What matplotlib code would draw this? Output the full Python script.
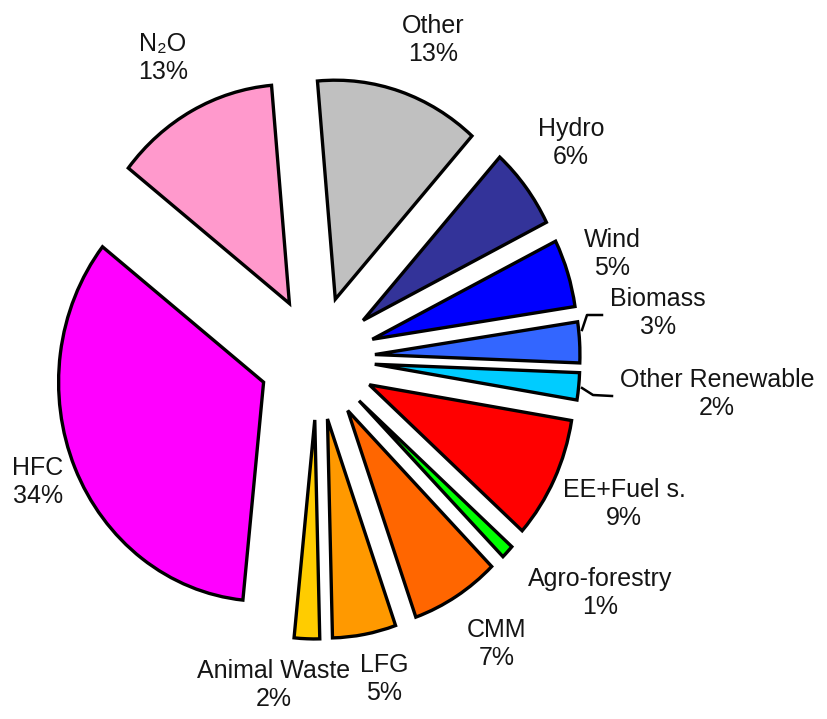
import matplotlib
matplotlib.use("Agg")
import matplotlib.pyplot as plt

plt.rcParams['font.family'] = ['Liberation Sans', 'DejaVu Sans']

# shares in percent, clockwise from the top
names = ["Other", "Hydro", "Wind", "Biomass", "Other Renewable", "EE+Fuel s.",
         "Agro-forestry", "CMM", "LFG", "Animal Waste", "HFC", "N\u2082O"]
shares = [13, 6, 5, 3, 2, 9, 1, 7, 5, 2, 34, 13]
colors = ["#C0C0C0", "#333399", "#0000FF", "#3366FF", "#00CCFF", "#FF0000",
          "#00FF00", "#FF6600", "#FF9900", "#FFCC00", "#FF00FF", "#FF99CC"]

# label centres in pixel coords of the 828x719 image
label_pos = [(433, 40), (571, 143), (612, 254), (658, 313), (717, 394), (624, 504),
             (600, 593), (497, 644), (384, 679), (274, 685), (38, 482), (163, 58)]

W, H = 828, 719
cx, cy = 317, 358
Rx, Ry = 205, 219   # the original pie is slightly taller than wide


def px(x, y):
    return (x - cx) / Rx, (cy - y) / Ry


fig = plt.figure(figsize=(W / 100, H / 100), dpi=100)
ax = fig.add_axes([0, 0, 1, 1])

ax.pie(shares, colors=colors, startangle=95, counterclock=False,
       explode=[0.283] * len(shares), radius=1,
       wedgeprops=dict(edgecolor="black", linewidth=2.4, joinstyle="miter"))

for name, v, (x, y) in zip(names, shares, label_pos):
    ax.text(*px(x, y), f"{name}\n{v}%", ha="center", va="center",
            fontsize=18, color="#151515", linespacing=1.25)

# leader lines for the small slices
for pts in [[(582, 330), (587, 315), (602, 315)],
            [(582, 388), (593, 395), (612, 396)]]:
    xs, ys = zip(*[px(a, b) for a, b in pts])
    ax.plot(xs, ys, color="black", lw=1.8)

ax.set_xlim(px(0, 0)[0], px(W, 0)[0])
ax.set_ylim(px(0, H)[1], px(0, 0)[1])
ax.set_aspect("auto")
ax.axis("off")

fig.savefig("out.png", dpi=100)
